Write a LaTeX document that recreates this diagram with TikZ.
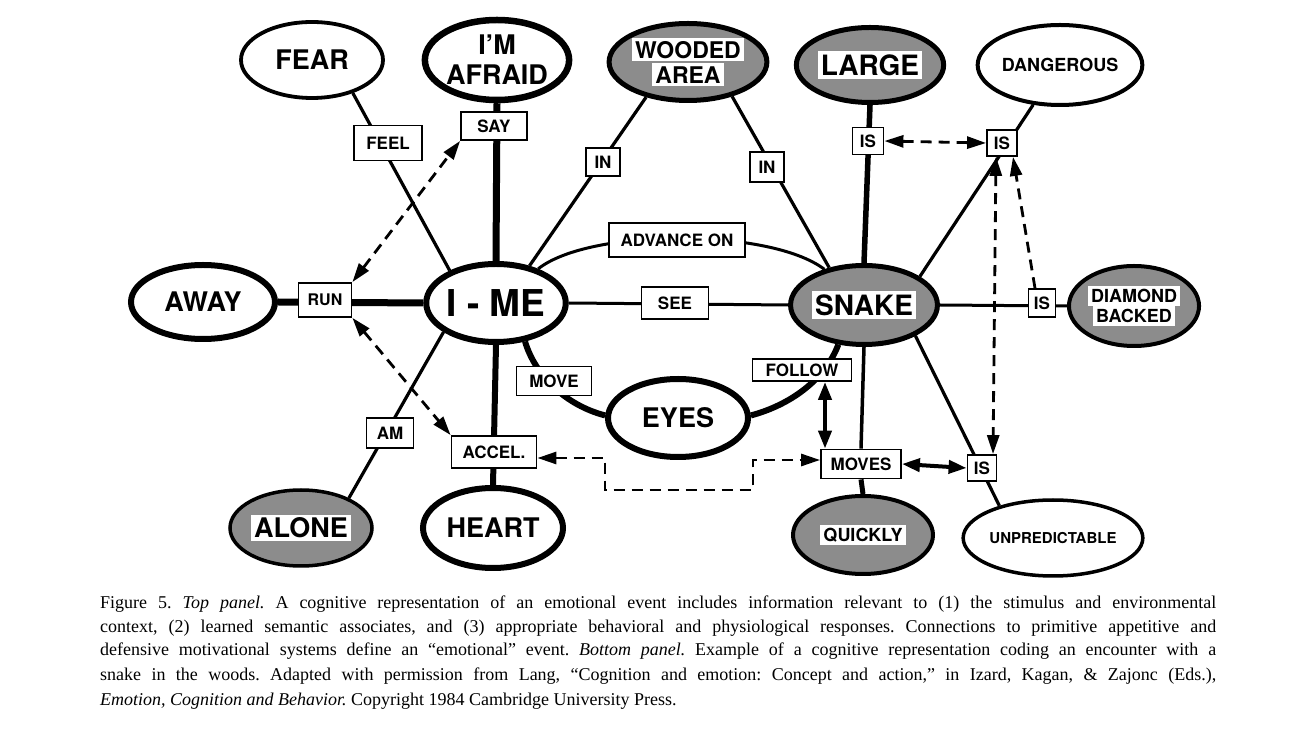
\documentclass[tikz,border=0pt]{standalone}
\usepackage{fontspec}
\setmainfont{Liberation Serif}
\newfontfamily\hvfont{TeX Gyre Heros}
\usetikzlibrary{shapes.geometric,arrows.meta}
\pgfdeclarelayer{bg}
\pgfsetlayers{bg,main}
\newcommand\whitebg[1]{{\setlength{\fboxsep}{3pt}\colorbox{white}{#1}}}
\tikzset{
 ell/.style={ellipse, draw, fill=white, inner sep=0pt, align=center,
   font=\hvfont\bfseries\fontsize{27}{30}\selectfont},
 shd/.style={ell, fill=black!45},
 lbl/.style={rectangle, draw, line width=1.8pt, fill=white, inner sep=0pt,
   font=\hvfont\bfseries\fontsize{17}{19}\selectfont},
 thinln/.style={line width=3.2pt},
 thickln/.style={line width=6pt},
 dasharr/.style={line width=2.8pt, dash pattern=on 11pt off 7pt,
   arrows={Triangle[length=19pt,width=12pt]-Triangle[length=19pt,width=12pt]}},
 dashone/.style={line width=2.8pt, dash pattern=on 11pt off 7pt,
   arrows={-Triangle[length=19pt,width=12pt]}},
 solarr/.style={line width=4pt,
   arrows={Triangle[length=18pt,width=13pt]-Triangle[length=18pt,width=13pt]}},
 captxt/.style={anchor=base west, inner sep=0pt, font=\frenchspacing\fontsize{18}{20}\selectfont},
}
\begin{document}
\begin{tikzpicture}[x=1pt,y=1pt]
\useasboundingbox (0,0) rectangle (1291,734);
\begin{pgfonlayer}{bg}
\fill[white] (0,0) rectangle (1291,734);
\end{pgfonlayer}

% ellipses
\node[ell, line width=3.8pt, minimum width=142pt, minimum height=76pt] (fear) at (312,674) {FEAR};
\node[ell, line width=6.5pt, minimum width=137pt, minimum height=80pt] (afraid) at (497,674) {I’M\\AFRAID};
\node[shd, line width=5pt, minimum width=141pt, minimum height=77pt, font=\hvfont\bfseries\fontsize{23}{25}\selectfont] (wood) at (688,672) {\whitebg{WOODED}\\\whitebg{AREA}};
\node[shd, line width=5pt, minimum width=139pt, minimum height=75pt, font=\hvfont\bfseries\fontsize{28}{30}\selectfont] (large) at (870,669) {\whitebg{LARGE}};
\node[ell, line width=4pt, minimum width=140pt, minimum height=80pt, font=\hvfont\bfseries\fontsize{18}{20}\selectfont] (dang) at (1060,669) {DANGEROUS};
\node[ell, line width=6pt, minimum width=144pt, minimum height=74pt] (away) at (203,432) {AWAY};
\node[ell, line width=6pt, minimum width=138pt, minimum height=78pt, font=\hvfont\bfseries\fontsize{37}{40}\selectfont] (ime) at (496,431) {I - ME};
\node[shd, line width=5pt, minimum width=139pt, minimum height=79pt, font=\hvfont\bfseries\fontsize{28}{30}\selectfont] (snake) at (864,429) {\whitebg{SNAKE}};
\node[shd, line width=4pt, minimum width=122pt, minimum height=80pt, font=\hvfont\bfseries\fontsize{18}{20}\selectfont] (diam) at (1134,428) {\whitebg{DIAMOND}\\\whitebg{BACKED}};
\node[ell, line width=6pt, minimum width=140pt, minimum height=78pt] (eyes) at (678,316) {EYES};
\node[shd, line width=3.5pt, minimum width=142pt, minimum height=76pt] (alone) at (301,206) {\whitebg{ALONE}};
\node[ell, line width=6pt, minimum width=140pt, minimum height=80pt] (heart) at (493,206) {HEART};
\node[shd, line width=4pt, minimum width=140pt, minimum height=78pt, font=\hvfont\bfseries\fontsize{18}{20}\selectfont] (quick) at (863,199) {\whitebg{QUICKLY}};
\node[ell, line width=3.5pt, minimum width=146pt, minimum height=76pt, font=\hvfont\bfseries\fontsize{15}{18}\selectfont] (unpred) at (1053,196) {UNPREDICTABLE};

% relation boxes
\node[lbl, minimum width=66pt, minimum height=28pt] (say) at (494,608) {SAY};
\node[lbl, minimum width=68pt, minimum height=35pt] (feel) at (388,591) {FEEL};
\node[lbl, minimum width=34pt, minimum height=28pt] (inA) at (603,572) {IN};
\node[lbl, minimum width=34pt, minimum height=30pt] (inB) at (767,567) {IN};
\node[lbl, minimum width=31pt, minimum height=27pt] (isL) at (868,593) {IS};
\node[lbl, minimum width=30pt, minimum height=26pt] (isD) at (1002,591) {IS};
\node[lbl, minimum width=53pt, minimum height=34pt, font=\hvfont\bfseries\fontsize{16}{18}\selectfont] (run) at (325,434) {RUN};
\node[lbl, minimum width=136pt, minimum height=34pt] (adv) at (677,494) {ADVANCE ON};
\node[lbl, minimum width=67pt, minimum height=32pt] (see) at (675,431) {SEE};
\node[lbl, minimum width=27pt, minimum height=28pt] (isB) at (1042,431) {IS};
\node[lbl, minimum width=75pt, minimum height=29pt] (move) at (554,353) {MOVE};
\node[lbl, minimum width=99pt, minimum height=22pt] (follow) at (802,364) {FOLLOW};
\node[lbl, minimum width=47pt, minimum height=30pt] (am) at (390,301) {AM};
\node[lbl, minimum width=85pt, minimum height=32pt] (accel) at (494,282) {ACCEL.};
\node[lbl, minimum width=80pt, minimum height=29pt] (moves) at (861,270) {MOVES};
\node[lbl, minimum width=29pt, minimum height=26pt] (isU) at (982,266) {IS};

\coordinate (c1) at (605,244);
\coordinate (c2) at (753,274);

\begin{pgfonlayer}{bg}
% connectors
\draw[thinln] (fear.-39) -- (ime.145);
\draw[line width=7pt] (afraid.south) -- (ime.north);
\draw[thinln] (wood.-140) -- (ime.48);
\draw[thinln] (wood.-38) -- (snake.133);
\draw[line width=5.5pt] (large.south) -- (snake.north);
\draw[thinln] (dang.-124) -- (snake.27);
\draw[line width=7pt] (away.east) -- (ime.west);
\draw[line width=3pt] (ime.39) .. controls (590,506) and (770,506) .. (snake.138);
\draw[line width=3pt] (ime.east) -- (snake.west);
\draw[line width=3pt] (snake.east) -- (diam.west);
\draw[thickln] (ime.-53) .. controls (535,359) and (565,329) .. (eyes.178);
\draw[thickln] (eyes.2) .. controls (790,329) and (825,354) .. (snake.-123);
\draw[thinln] (ime.-151) -- (alone.32);
\draw[thickln] (ime.south) -- (heart.north);
\draw[line width=3.5pt] (snake.south) -- (moves.north);
\draw[line width=5pt] (moves.south) -- (quick.north);
\draw[thinln] (snake.-31) -- (unpred.149);
% associative arrows
\draw[dasharr] (run.north east) -- (say.south west);
\draw[dasharr] (run.south east) -- (accel.north west);
\draw[dasharr] ([yshift=-6pt]accel.east) -| (c1) -| (c2) -- ([yshift=4pt]moves.west);
\draw[dasharr] (isL.east) -- (isD.west);
\draw[dasharr] ([xshift=-6pt]isD.south) -- ([xshift=11pt]isU.north);
\draw[dashone] ([xshift=-7pt]isB.north) -- ([xshift=11pt]isD.south);
\draw[solarr] ([xshift=23pt]follow.south) -- ([xshift=-36pt]moves.north);
\draw[solarr] (moves.east) -- (isU.west);
\end{pgfonlayer}

% caption
\node[captxt] (cap1) at (100,125) {\makebox[1116pt][s]{Figure 5. \textit{Top panel.} A cognitive representation of an emotional event includes information relevant to (1) the stimulus and environmental}};
\node[captxt] (cap2) at (100,101) {\makebox[1116pt][s]{context, (2) learned semantic associates, and (3) appropriate behavioral and physiological responses. Connections to primitive appetitive and}};
\node[captxt] (cap3) at (100,78) {\makebox[1116pt][s]{defensive motivational systems define an “emotional” event. \textit{Bottom panel.} Example of a cognitive representation coding an encounter with a}};
\node[captxt] (cap4) at (100,53) {\makebox[1116pt][s]{snake in the woods. Adapted with permission from Lang, “Cognition and emotion: Concept and action,” in Izard, Kagan, \& Zajonc (Eds.),}};
\node[captxt] (cap5) at (100,29) {\textit{Emotion, Cognition and Behavior.} Copyright 1984 Cambridge University Press.};
\end{tikzpicture}
\end{document}
